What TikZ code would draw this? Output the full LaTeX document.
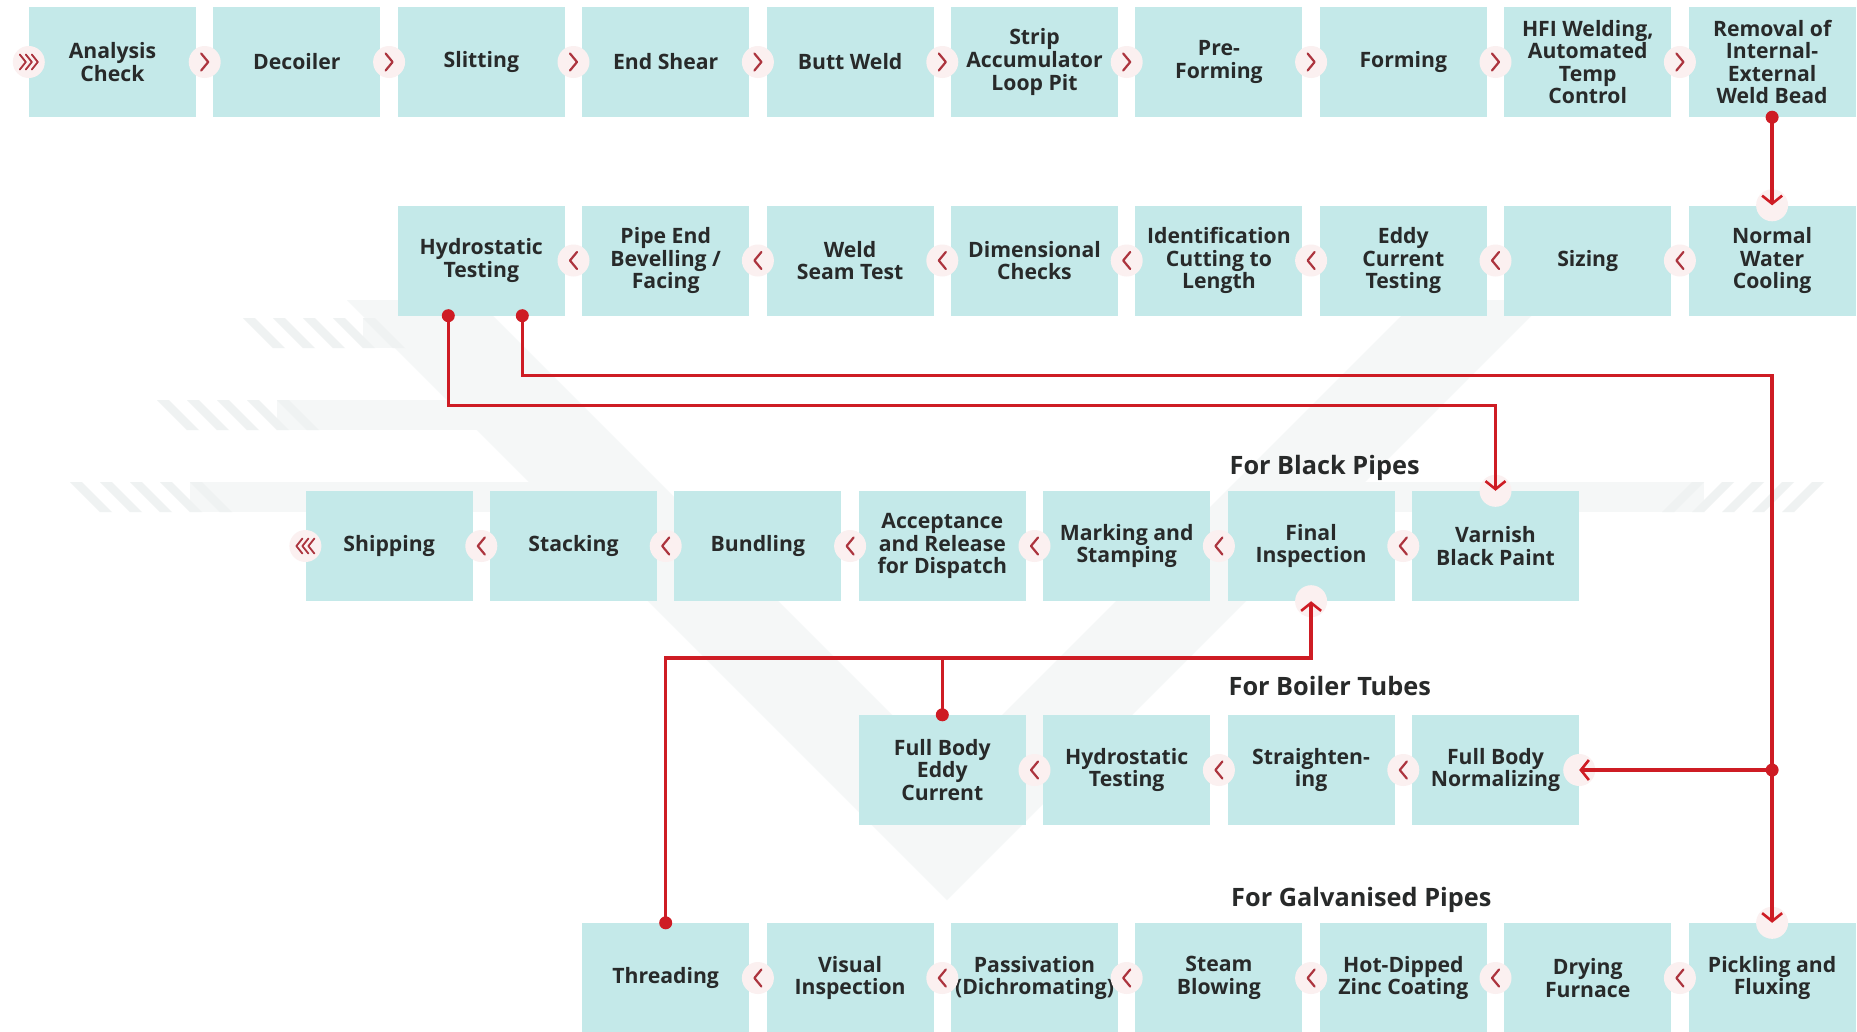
\documentclass[tikz,border=0pt]{standalone}
\usepackage{fontspec}
\setmainfont{Open Sans}
\usetikzlibrary{arrows.meta,calc,positioning}

\definecolor{boxfill}{RGB}{196,233,233}
\definecolor{flowred}{RGB}{206,28,36}
\definecolor{chevred}{RGB}{172,52,62}
\definecolor{ringfill}{RGB}{251,240,240}
\definecolor{inkgray}{RGB}{40,42,42}
\definecolor{wmark}{RGB}{245,247,247}
\definecolor{whatch}{RGB}{239,242,242}

\tikzset{
  stage/.style={fill=boxfill, minimum width=167pt, minimum height=110pt,
    inner sep=2pt, align=center, text=inkgray,
    font=\bfseries\fontsize{21.2}{22.6}\selectfont},
  heading/.style={text=inkgray, inner sep=0pt,
    font=\bfseries\fontsize{25.3}{27}\selectfont},
  flow/.style={draw=flowred, line width=3.4pt,
    -{Straight Barb[length=8pt,width=20pt,line width=2.6pt]}},
  ringbg/.style={fill=ringfill},
  chev/.style={draw=chevred, line width=2.2pt, line cap=round, line join=round},
  chevfwd/.pic={\fill[ringbg] (0,0) circle (16pt);
    \draw[chev] (-3.5,-8.5) -- (3.5,0) -- (-3.5,8.5);},
  chevback/.pic={\fill[ringbg] (0,0) circle (16pt);
    \draw[chev] (3.5,-8.5) -- (-3.5,0) -- (3.5,8.5);},
  startchev/.pic={\fill[ringbg] (0,0) circle (16pt);
    \foreach \d in {-6,0,6}
      \draw[chev,line width=1.8pt] (\d-3,-7.5) -- (\d+3,0) -- (\d-3,7.5);},
  endchev/.pic={\fill[ringbg] (0,0) circle (16pt);
    \foreach \d in {-6,0,6}
      \draw[chev,line width=1.8pt] (\d+3,-7.5) -- (\d-3,0) -- (\d+3,7.5);}
}

\begin{document}
\begin{tikzpicture}[x=1pt,y=-1pt]
    \useasboundingbox (0,0) rectangle (1857,1031);
    \fill[white] (0,0) rectangle (1857,1031);
    % Watermark
    \fill[wmark] (347,300) -- (477,300) -- (947,770) -- (1417,300)
          -- (1547,300) -- (947,900) -- cycle;
    \foreach \wy/\wx in {318/243, 400/157, 482/70} {
        \fill[wmark] (\wx+120,\wy) rectangle (\wy+80,\wy+30);
        \foreach \s in {0,30,...,120}
            \fill[whatch] (\wx+\s,\wy) -- ++(12,0) -- ++(30,30) -- ++(-12,0) -- cycle;
    }
    \fill[wmark] (1894-190,482) rectangle (1894-562,512);
    \foreach \s in {0,30,...,120}
        \fill[whatch] (1824-\s,482) -- ++(-12,0) -- ++(-30,30) -- ++(12,0) -- cycle;
    % Pipe mill line
    \foreach \txt [count=\i from 0] in {Analysis\\Check, Decoiler, Slitting,
          End Shear, Butt Weld, Strip\\Accumulator\\Loop Pit, Pre-\\Forming,
          Forming, {HFI Welding,\\Automated\\Temp\\Control},
          Removal of\\Internal-\\External\\Weld Bead}
        \node[stage] (mill\i) at (112.5+184.4*\i,62) {\txt};
    % Finishing line
    \foreach \txt [count=\i from 2] in {Hydrostatic\\Testing,
          Pipe End\\Bevelling /\\Facing, Weld\\Seam Test, Dimensional\\Checks,
          Identification\\Cutting to\\Length, Eddy\\Current\\Testing, Sizing,
          Normal\\Water\\Cooling}
        \node[stage] (fin\i) at (112.5+184.4*\i,260.5) {\txt};
    % Black pipes
    \foreach \txt [count=\i from 0] in {Shipping, Stacking, Bundling,
          Acceptance\\and Release\\for Dispatch, Marking and\\Stamping,
          Final\\Inspection, Varnish\\Black Paint}
        \node[stage] (black\i) at (389.1+184.4*\i,546) {\txt};
    % Boiler tubes
    \foreach \txt [count=\i from 0] in {Full Body\\Eddy\\Current,
          Hydrostatic\\Testing, Straighten-\\ing, Full Body\\Normalizing}
        \node[stage] (boiler\i) at (942.3+184.4*\i,770) {\txt};
    % Galvanised pipes
    \foreach \txt [count=\i from 0] in {Threading, Visual\\Inspection,
          Passivation\\(Dichromating), Steam\\Blowing, Hot-Dipped\\Zinc Coating,
          Drying\\Furnace, Pickling and\\Fluxing}
        \node[stage] (galv\i) at (665.7+184.4*\i,978) {\txt};
    % Headings
    \node[heading,anchor=base west] (blackhead) at ($(black5.north west)+(2,-16)$) {For Black Pipes};
    \node[heading,anchor=base west] (boilerhead) at ($(boiler2.north west)+(1,-19)$) {For Boiler Tubes};
    \node[heading,anchor=base west] (galvhead) at (1231,906) {For Galvanised Pipes};
    % Step markers
    \foreach \i in {0,...,8} \pic at (204.7+184.4*\i,62) {chevfwd};
    \foreach \i in {2,...,8} \pic at (204.7+184.4*\i,260.5) {chevback};
    \foreach \i in {0,...,5} \pic at (481.3+184.4*\i,546) {chevback};
    \foreach \i in {0,...,2} \pic at (1034.5+184.4*\i,770) {chevback};
    \foreach \i in {3,...,8} \pic at (204.7+184.4*\i,978) {chevback};
    \pic at (mill0.west) {startchev};
    \pic at (black0.west) {endchev};
    \foreach \p in {fin9.north, black6.north, black5.south, galv6.north, boiler3.east}
        \fill[ringbg] (\p) circle (16pt);
    % Flow lines
    \coordinate (split) at (galv6.north |- boiler3.east);
    \coordinate (tjoin) at ($(galv0.north)+(0,-265)$);
    \draw[flow] (mill9.south) -- (fin9.north);
    \draw[flow] ($(fin2.south)+(-33,0)$) -- ++(0,90) -| (black6.north);
    \draw[flow] ($(fin2.south)+(41,0)$) -- ++(0,60) -| (galv6.north);
    \draw[flow] (split) -- (boiler3.east);
    \draw[flow] (galv0.north) -- (tjoin) -| (black5.south);
    \draw[flow,-] (boiler0.north) -- (boiler0.north |- tjoin);
    \foreach \p in {mill9.south, galv0.north, boiler0.north, split}
        \fill[flowred] (\p) circle (6.5pt);
    \fill[flowred] ($(fin2.south)+(-33,0)$) circle (6.5pt);
    \fill[flowred] ($(fin2.south)+(41,0)$) circle (6.5pt);
\end{tikzpicture}
\end{document}
